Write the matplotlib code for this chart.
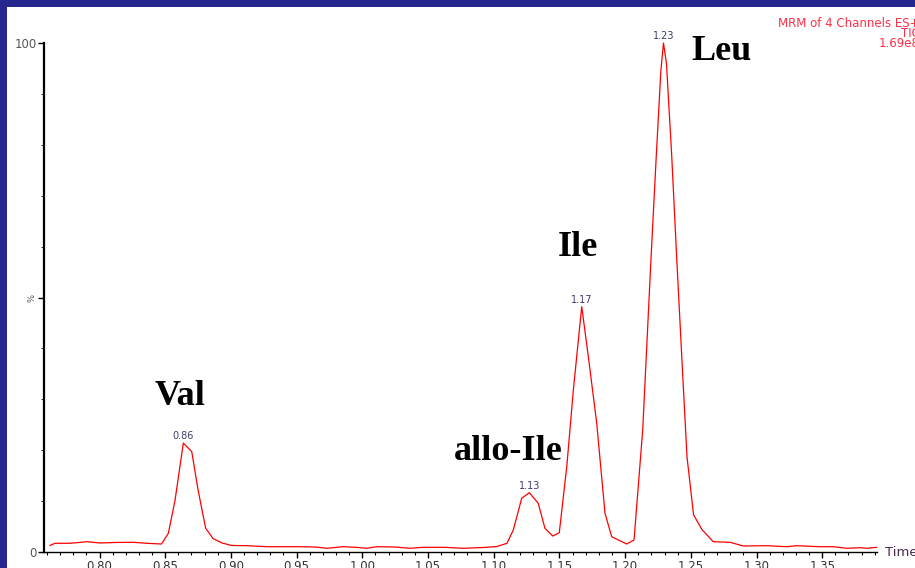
import numpy as np
import matplotlib.pyplot as plt
from matplotlib.patches import Rectangle
from matplotlib.ticker import MultipleLocator

# chromatogram trace (time in min, intensity in %)
time = [0.7623, 0.7661, 0.7775, 0.7905, 0.8004, 0.8118, 0.8255, 0.8361, 0.8472,
        0.8524, 0.8575, 0.8638, 0.8702, 0.8750, 0.8808, 0.8864, 0.8932, 0.9006,
        0.9120, 0.9272, 0.9526, 0.9640, 0.9731, 0.9853, 0.9952, 1.0033, 1.0112,
        1.0249, 1.0363, 1.0462, 1.0629, 1.0766, 1.0918, 1.1025, 1.1101,
        1.1149, 1.1213, 1.1271, 1.1339, 1.1390, 1.1449, 1.1499,
        1.1556, 1.1606, 1.1670, 1.1720, 1.1784, 1.1847, 1.1898, 1.2012, 1.2068,
        1.2134, 1.2197, 1.2237, 1.2272, 1.2292, 1.2315, 1.2355, 1.2393, 1.2433,
        1.2471, 1.2521, 1.2585, 1.2671, 1.2798, 1.2900, 1.3078, 1.3230, 1.3306,
        1.3483, 1.3584, 1.3686, 1.3788, 1.3839, 1.3915]
intensity = [1.28, 1.71, 1.71, 2.02, 1.77, 1.87, 1.91, 1.71, 1.57,
             3.67, 10.2, 21.4, 19.7, 12.2, 4.66, 2.65, 1.77, 1.28,
             1.24, 1.04, 1.04, 0.98, 0.73, 1.04, 0.92, 0.73, 1.04,
             0.98, 0.73, 0.92, 0.92, 0.73, 0.88, 1.08, 1.71,
             4.32, 10.55, 11.65, 9.57, 4.66, 3.14, 3.79,
             16.76, 31.8, 48.2, 38.4, 25.3, 7.6, 3.0, 1.57, 2.36,
             24.0, 57.6, 77.7, 94.5, 100.0, 95.9, 77.7, 57.6, 37.5,
             18.7, 7.3, 4.4, 2.02, 1.91, 1.18, 1.24, 1.04, 1.24,
             1.04, 1.04, 0.73, 0.84, 0.73, 0.92]

peak_labels = ['0.86', '1.13', '1.17', '1.23']
compounds = ['Val', 'allo-Ile', 'Ile', 'Leu']
compound_x = [0.8614, 1.1110, 1.1641, 1.2734]
compound_y = [28.9, 18.1, 58.2, 96.7]
header = ['MRM of 4 Channels ES+', 'TIC', '1.69e8']

W, H = 915, 568
fig = plt.figure(figsize=(W / 100, H / 100), dpi=100, facecolor='#26268f')
fig.patches.append(Rectangle((7 / W, 0), 1, 1 - 7 / H, transform=fig.transFigure,
                             facecolor='white', edgecolor='none', zorder=-1))

ax = fig.add_axes([43.5 / W, 16 / H, (877 - 43.5) / W, 509 / H])
ax.set_facecolor('none')
ax.plot(time, intensity, color='#ff0000', lw=0.9, clip_on=False)
ax.set_xlim(0.75738, 1.3917)
ax.set_ylim(0, 100)

for s in ['top', 'right']:
    ax.spines[s].set_visible(False)
ax.spines['left'].set_linewidth(1.6)
ax.spines['bottom'].set_linewidth(1.0)

ax.xaxis.set_major_locator(MultipleLocator(0.05))
ax.xaxis.set_minor_locator(MultipleLocator(0.01))
ax.xaxis.set_major_formatter(lambda v, p: '%.2f' % v)
ax.tick_params(axis='x', which='major', length=4, width=1, pad=1.5,
               labelsize=8.5, labelcolor='#333333')
ax.tick_params(axis='x', which='minor', length=2.5, width=0.8)

ax.set_yticks([0, 50, 100], ['0', '%', '100'])
ax.yaxis.set_minor_locator(MultipleLocator(10))
ax.tick_params(axis='y', which='major', length=4, width=1, pad=1,
               labelsize=8.5, labelcolor='#555555')
ax.tick_params(axis='y', which='minor', length=2, width=0.6)
ax.get_yticklabels()[1].set_rotation(90)
ax.get_yticklabels()[1].set_fontsize(6)

t = np.array(time)
y = np.array(intensity)
for lab in peak_labels:
    m = np.abs(t - float(lab)) < 0.01
    i = np.where(m)[0][np.argmax(y[m])]
    ax.annotate(lab, (t[i], y[i]), xytext=(0, 1.5), textcoords='offset points',
                ha='center', va='bottom', fontsize=7, color='#3c3c6e',
                annotation_clip=False)

for name, cx, cy in zip(compounds, compound_x, compound_y):
    ax.text(cx, cy, name, ha='center', va='baseline', fontsize=26,
            fontweight='bold', family='Liberation Serif', color='black')

fig.text(885 / W, 1 - 553 / H, 'Time', ha='left', va='center',
         color='#4a2850', fontsize=9.5)
# instrument header, runs off the right edge like the original
fig.text(920 / W, 1 - 17 / H, '\n'.join(header), ha='right', va='top',
         multialignment='right', linespacing=0.7, color='#ff3048', fontsize=8.5)

fig.savefig('out.png', dpi=100, facecolor=fig.get_facecolor())
